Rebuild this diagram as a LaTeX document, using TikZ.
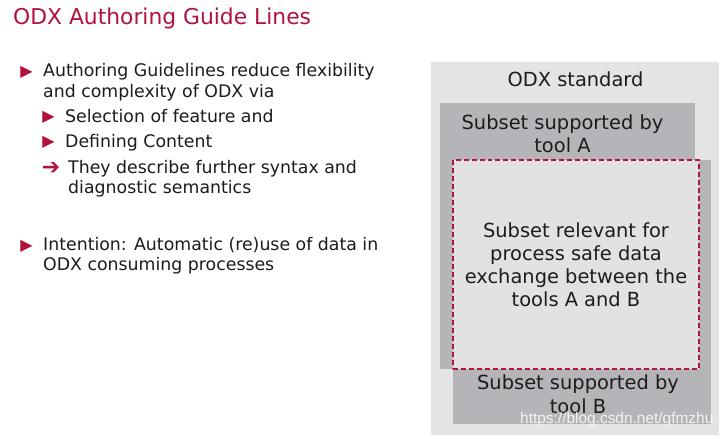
\documentclass[tikz,border=0pt]{standalone}
\usepackage{fontspec}
\setmainfont{DejaVu Sans}
\newfontfamily\wmfont{Liberation Sans}
\usepackage{xcolor}
\usetikzlibrary{positioning, calc}
\definecolor{odxred}{RGB}{178,18,60}
\definecolor{paneltone}{RGB}{228,228,231}
\definecolor{subsettone}{RGB}{181,181,185}
\definecolor{relevanttone}{RGB}{226,226,229}
\definecolor{bodytext}{RGB}{28,28,28}
\tikzset{
  panelbox/.style={
    rectangle,
    anchor=north west,
    inner sep=0pt,
    outer sep=0pt
  },
  relevantbox/.style={
    panelbox,
    fill=relevanttone,
    draw=odxred,
    line width=1.4pt,
    dash pattern=on 5pt off 3pt
  },
  paneltext/.style={
    anchor=base,
    align=center,
    inner sep=0pt,
    text=bodytext,
    font=\fontsize{19.5}{23.3}\selectfont
  },
  bullettext/.style={
    anchor=base west,
    align=left,
    inner sep=0pt,
    text=bodytext,
    font=\fontsize{17.4}{20.8}\selectfont
  },
  bulletmark/.style={
    anchor=center,
    inner sep=0pt,
    text=odxred,
    font=\fontsize{16}{16}\selectfont
  },
  titletext/.style={
    anchor=base west,
    inner sep=0pt,
    text=odxred,
    font=\fontsize{21.9}{26}\selectfont
  }
}

\begin{document}
\begin{tikzpicture}[x=1bp, y=-1bp]
  \useasboundingbox[fill=white] (0,0) rectangle (726,439);

  \node[titletext] (title) at (13,25) {ODX Authoring Guide Lines};

  % left column (multi-line nodes sit on their last baseline)
  \node[bullettext] (auth) at (43,97.5)
    {Authoring Guidelines reduce flexibility\\and complexity of ODX via};
  \node[bullettext] (sel) at (65,123) {Selection of feature and};
  \node[bullettext] (def) at (65,148) {Defining Content};
  \node[bullettext] (they) at (68,194)
    {They describe further syntax and\\diagnostic semantics};
  \node[bullettext] (intent) at (43,271)
    {Intention: Automatic (re)use of data in\\ODX consuming processes};

  \node[bulletmark] (bauth) at ($(auth.base west)+(-16.5,-25)$) {▶};
  \node[bulletmark] (bsel) at ($(sel.base west)+(-16.5,-5.5)$) {▶};
  \node[bulletmark] (bdef) at ($(def.base west)+(-16.5,-5.5)$) {▶};
  \node[bulletmark, font=\fontsize{22}{22}\selectfont] (bthey) at ($(they.base west)+(-17,-26)$) {➔};
  \node[bulletmark] (bintent) at ($(intent.base west)+(-16.5,-25)$) {▶};

  % right panel
  \node[panelbox, fill=paneltone, minimum width=288bp, minimum height=373bp] (odx) at (431,62) {};
  \node[panelbox, fill=subsettone, minimum width=255bp, minimum height=266bp] (toola) at (440,103) {};
  \node[panelbox, fill=subsettone, minimum width=258bp, minimum height=264bp] (toolb) at (453,160) {};
  \node[relevantbox, minimum width=246bp, minimum height=209bp] (relevant) at (453,160) {};

  \node[paneltext] (odxlabel) at (575.5,87) {ODX standard};
  \node[paneltext] (toolalabel) at (562.5,153) {Subset supported by\\tool A};
  \node[paneltext] (relevantlabel) at (576,307)
    {Subset relevant for\\process safe data\\exchange between the\\tools A and B};
  \node[paneltext] (toolblabel) at (578,413) {Subset supported by\\tool B};

  \node[anchor=base west, inner sep=0pt, text=white, opacity=0.85,
    font=\wmfont\fontsize{15.5}{18}\selectfont] (mark) at (520,423)
    {https://blog.csdn.net/qfmzhu};
\end{tikzpicture}
\end{document}
